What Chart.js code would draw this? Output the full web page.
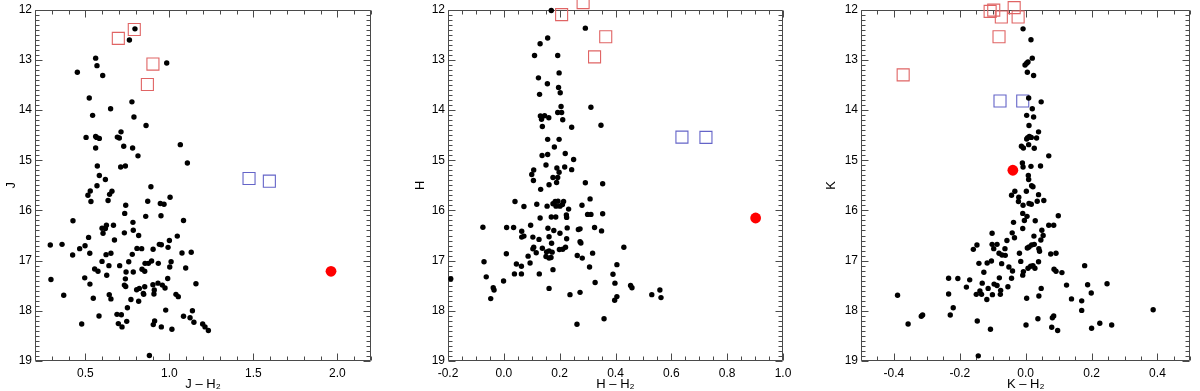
<!DOCTYPE html>
<html>
<head>
<meta charset="utf-8">
<script src="https://cdn.jsdelivr.net/npm/chart.js@4.4.1/dist/chart.umd.min.js"></script>
<style>
  html, body { margin: 0; padding: 0; background: #fff; }
  #wrap { position: relative; width: 1200px; height: 391px; overflow: hidden; }
  #wrap canvas { position: absolute; top: 0; }
</style>
</head>
<body>
<div id="wrap">
  <canvas id="cJ" width="400" height="391" style="left:0px"></canvas>
  <canvas id="cH" width="400" height="391" style="left:400px"></canvas>
  <canvas id="cK" width="400" height="391" style="left:800px"></canvas>
</div>
<script>
// ---------------- DATA ----------------
// Magnitude axis tick labels (shared by all panels)
const MAG_TICKS = [12, 13, 14, 15, 16, 17, 18, 19];

// Panel 1: J vs J - H2
const J_XTICKS = [0.5, 1.0, 1.5, 2.0];
const J_DOTS = [
  [0.795,12.383],[0.762,12.606],[0.561,12.967],[0.569,13.117],[0.984,13.065],[0.452,13.248],[0.603,13.314],
  [0.523,13.760],[0.777,13.838],[0.543,14.107],[0.650,13.976],[0.789,14.140],[0.861,14.310],[0.712,14.435],
  [0.504,14.546],[0.561,14.526],[0.567,14.546],[0.583,14.566],[0.690,14.540],[0.702,14.559],[0.728,14.723],
  [0.561,14.756],[0.781,14.756],[1.065,14.690],[0.813,14.913],[0.571,15.116],[0.738,15.116],[0.710,15.136],
  [1.107,15.057],[0.583,15.306],[0.619,15.385],[0.890,15.529],[0.569,15.509],[0.515,15.699],[0.529,15.614],
  [0.658,15.620],[0.644,15.680],[0.533,15.824],[0.635,15.804],[0.871,15.817],[0.740,15.896],[0.946,15.863],
  [0.968,15.876],[1.004,15.738],[0.734,16.060],[0.859,16.119],[0.950,16.106],[0.426,16.205],[0.783,16.238],
  [1.084,16.200],[0.625,16.296],[0.599,16.355],[0.619,16.362],[0.667,16.296],[0.605,16.454],[0.785,16.394],
  [0.732,16.447],[0.817,16.499],[0.519,16.538],[1.047,16.512],[0.673,16.590],[1.000,16.600],[0.291,16.690],
  [0.361,16.676],[0.498,16.703],[0.466,16.762],[0.424,16.889],[0.526,16.855],[0.652,16.855],[0.623,16.881],
  [0.807,16.757],[0.835,16.762],[0.779,16.875],[0.903,16.774],[0.940,16.676],[0.952,16.683],[0.992,16.736],
  [1.075,16.850],[1.130,16.835],[0.599,17.016],[0.704,17.101],[0.640,17.101],[0.758,17.022],[0.855,17.055],
  [0.875,17.055],[0.894,17.009],[0.934,17.055],[1.010,17.022],[1.002,17.127],[1.097,17.147],[0.555,17.166],
  [0.575,17.213],[0.627,17.292],[0.742,17.226],[0.785,17.226],[0.837,17.173],[0.853,17.213],[0.295,17.377],
  [0.496,17.344],[0.738,17.364],[0.990,17.357],[0.527,17.468],[0.732,17.488],[0.740,17.515],[0.902,17.481],
  [0.932,17.449],[0.958,17.488],[0.974,17.547],[0.853,17.521],[0.821,17.554],[0.805,17.580],[0.910,17.587],
  [1.158,17.462],[0.371,17.691],[0.547,17.750],[0.642,17.678],[0.652,17.763],[0.771,17.776],[0.817,17.809],
  [0.845,17.652],[0.847,17.672],[0.908,17.665],[1.039,17.672],[1.053,17.718],[0.750,17.940],[0.978,17.986],
  [1.137,18.000],[0.581,18.104],[0.688,18.071],[0.714,18.078],[1.084,18.110],[0.746,18.210],[1.123,18.137],
  [0.478,18.262],[0.696,18.255],[0.718,18.321],[0.904,18.275],[0.912,18.203],[0.952,18.321],[1.015,18.367],
  [1.146,18.229],[1.198,18.262],[1.212,18.321],[1.232,18.393],[0.881,18.890]
];
const J_RED_SQ  = [[0.696,12.573],[0.791,12.396],[0.902,13.085],[0.869,13.491]];
const J_BLUE_SQ = [[1.474,15.365],[1.595,15.418]];
const J_RED_PT  = [[1.962,17.213]];

// Panel 2: H vs H - H2
const H_XTICKS = [-0.2, 0.0, 0.2, 0.4, 0.6, 0.8, 1.0];
const H_DOTS = [
  [0.170,12.017],[0.292,12.370],[0.157,12.567],[0.130,12.679],[0.110,12.914],[0.193,12.914],[0.198,13.261],
  [0.124,13.360],[0.156,13.478],[0.196,13.550],[0.202,13.655],[0.128,13.688],[0.205,13.930],[0.312,13.944],
  [0.193,14.049],[0.207,14.049],[0.131,14.120],[0.146,14.114],[0.161,14.153],[0.135,14.186],[0.211,14.193],
  [0.138,14.330],[0.243,14.343],[0.348,14.304],[0.157,14.585],[0.198,14.585],[0.181,14.736],[0.220,14.867],
  [0.157,14.887],[0.137,14.906],[0.250,14.985],[0.151,15.096],[0.218,15.136],[0.243,15.188],[0.190,15.155],
  [0.198,15.240],[0.107,15.194],[0.100,15.286],[0.106,15.404],[0.176,15.345],[0.193,15.345],[0.189,15.443],
  [0.162,15.490],[0.132,15.581],[0.292,15.450],[0.354,15.470],[0.309,15.771],[0.040,15.824],[0.072,15.922],
  [0.118,15.876],[0.155,15.915],[0.176,15.869],[0.184,15.824],[0.194,15.817],[0.201,15.915],[0.210,15.883],
  [0.214,15.824],[0.187,15.915],[0.232,15.974],[0.280,15.896],[0.130,16.152],[0.170,16.132],[0.186,16.132],
  [0.224,16.093],[0.225,16.139],[0.300,16.080],[0.312,16.080],[0.354,16.067],[-0.075,16.335],[0.010,16.342],
  [0.035,16.342],[0.064,16.414],[0.096,16.296],[0.158,16.355],[0.179,16.401],[0.201,16.454],[0.227,16.349],
  [0.267,16.381],[0.273,16.368],[0.325,16.342],[0.350,16.408],[0.064,16.532],[0.072,16.512],[0.104,16.532],
  [0.126,16.578],[0.162,16.525],[0.171,16.655],[0.225,16.564],[0.273,16.623],[0.276,16.649],[0.430,16.734],
  [0.107,16.734],[0.104,16.766],[0.138,16.753],[0.199,16.779],[0.211,16.773],[0.221,16.734],[0.153,16.826],
  [0.162,16.806],[0.173,16.832],[0.116,16.845],[0.009,16.865],[0.087,16.911],[0.151,16.917],[0.162,16.950],
  [0.169,16.937],[0.263,16.898],[0.318,16.852],[0.281,16.950],[-0.071,17.022],[0.094,17.048],[0.045,17.068],
  [0.063,17.114],[0.176,17.180],[0.307,17.127],[0.405,17.081],[-0.063,17.324],[0.038,17.265],[0.063,17.265],
  [0.127,17.265],[-0.001,17.406],[-0.190,17.364],[0.391,17.272],[0.398,17.449],[0.327,17.436],[0.454,17.495],
  [0.459,17.541],[-0.038,17.541],[-0.035,17.587],[0.162,17.554],[0.559,17.587],[-0.047,17.757],[0.237,17.678],
  [0.273,17.632],[0.405,17.717],[0.397,17.789],[0.530,17.678],[0.563,17.737],[0.359,18.157],[0.262,18.268]
];
const H_RED_SQ  = [[0.207,12.100],[0.284,11.860],[0.365,12.541],[0.325,12.941]];
const H_BLUE_SQ = [[0.638,14.540],[0.724,14.546]];
const H_RED_PT  = [[0.902,16.151]];

// Panel 3: K vs K - H2
const K_XTICKS = [-0.4, -0.2, 0.0, 0.2, 0.4];
const K_DOTS = [
  [-0.008,12.383],[0.016,12.600],[0.020,12.967],[-0.002,13.104],[0.003,13.070],[0.007,13.045],[0.005,13.248],
  [0.024,13.314],[0.009,13.760],[0.047,13.838],[0.020,13.976],[0.003,14.107],[0.024,14.140],[0.010,14.310],
  [0.039,14.435],[0.017,14.546],[0.006,14.553],[0.011,14.526],[0.003,14.579],[0.033,14.559],[0.009,14.690],
  [-0.013,14.723],[-0.007,14.756],[0.026,14.762],[0.070,14.913],[-0.010,15.057],[-0.008,15.136],[0.016,15.123],
  [0.045,15.116],[0.008,15.306],[0.009,15.385],[0.018,15.509],[0.022,15.529],[0.002,15.620],[-0.033,15.620],
  [-0.043,15.699],[-0.021,15.738],[-0.022,15.824],[0.039,15.686],[0.055,15.804],[0.035,15.817],[0.010,15.863],
  [0.017,15.876],[-0.008,15.896],[-0.009,16.060],[0.004,16.119],[0.099,16.106],[-0.004,16.200],[-0.037,16.238],
  [0.029,16.205],[0.070,16.296],[0.085,16.296],[-0.009,16.362],[-0.102,16.454],[-0.041,16.447],[0.049,16.394],
  [-0.034,16.545],[0.053,16.499],[0.025,16.512],[-0.057,16.600],[0.046,16.590],[-0.148,16.690],[-0.159,16.776],
  [-0.102,16.676],[-0.087,16.676],[-0.097,16.762],[-0.063,16.762],[0.018,16.690],[0.026,16.676],[0.010,16.729],
  [0.005,16.749],[0.040,16.762],[0.042,16.815],[-0.081,16.855],[-0.072,16.889],[-0.062,16.895],[-0.019,16.855],
  [0.076,16.868],[0.092,16.855],[-0.117,17.048],[-0.142,17.055],[-0.104,17.009],[-0.073,17.061],[-0.015,17.016],
  [0.039,17.022],[0.007,17.153],[0.015,17.114],[0.022,17.101],[0.028,17.153],[-0.007,17.219],[-0.009,17.290],
  [-0.051,17.127],[-0.040,17.206],[-0.127,17.232],[0.086,17.173],[0.092,17.213],[0.110,17.239],[0.179,17.101],
  [-0.234,17.351],[-0.206,17.357],[-0.170,17.383],[-0.132,17.449],[-0.080,17.344],[-0.043,17.351],[-0.096,17.468],
  [-0.087,17.495],[-0.054,17.521],[-0.180,17.528],[-0.114,17.554],[-0.139,17.607],[-0.134,17.672],[-0.150,17.672],
  [-0.076,17.593],[-0.077,17.672],[-0.101,17.678],[-0.118,17.776],[-0.234,17.665],[-0.389,17.691],[0.003,17.750],
  [0.040,17.704],[0.047,17.554],[0.124,17.488],[0.188,17.481],[0.247,17.462],[0.199,17.645],[0.139,17.763],
  [0.170,17.802],[0.170,17.992],[0.387,17.979],[-0.220,17.940],[-0.229,18.084],[-0.317,18.110],[-0.313,18.084],
  [-0.357,18.262],[-0.147,18.203],[-0.107,18.367],[0.001,18.282],[0.037,18.157],[0.081,18.137],[0.085,18.104],
  [0.079,18.327],[0.097,18.393],[0.200,18.347],[0.225,18.249],[0.261,18.282],[-0.144,18.897]
];
const K_RED_SQ  = [[-0.108,12.036],[-0.097,12.010],[-0.074,12.147],[-0.023,12.147],[-0.035,11.960],[-0.081,12.540],[-0.372,13.300]];
const K_BLUE_SQ = [[-0.078,13.820],[-0.009,13.820]];
const K_RED_PT  = [[-0.039,15.200]];

// ---------------- STYLE / LAYOUT ----------------
const FONT = "'Liberation Sans', Arial, Helvetica, 'DejaVu Sans', sans-serif";
const AXIS_COLOR = '#4a4a4a';
const RED_SQ_COLOR = '#e06464';
const BLUE_SQ_COLOR = '#6464c8';

const toPts = arr => arr.map(([x, y]) => ({x, y}));

// Inward ticks on all four sides + frame, positioned through the chart's own scales
const frameTicks = {
  id: 'frameTicks',
  beforeDatasetsDraw(chart, args, o) {
    const {ctx, chartArea: a} = chart;
    const xs = chart.scales.x, ys = chart.scales.y;
    const L = Math.round(a.left) + 0.5, R = Math.round(a.right) - 0.5;
    const T = Math.round(a.top) + 0.5, B = Math.round(a.bottom) - 0.5;
    ctx.save();
    ctx.strokeStyle = AXIS_COLOR;
    ctx.lineWidth = 1;
    ctx.beginPath();
    ctx.rect(L, T, R - L, B - T);
    ctx.stroke();
    ctx.beginPath();
    const near = (v, arr) => arr.some(t => Math.abs(t - v) < 1e-6);
    // x ticks
    const nx = Math.round((o.xmax - o.xmin) / o.xminor);
    for (let i = 0; i <= nx; i++) {
      const v = o.xmin + i * o.xminor;
      const len = near(v, o.xmajor) ? 7 : 4;
      const p = Math.round(xs.getPixelForValue(v)) + 0.5;
      ctx.moveTo(p, B); ctx.lineTo(p, B - len);
      ctx.moveTo(p, T); ctx.lineTo(p, T + len);
    }
    // y ticks
    const ny = Math.round((19 - 12) / o.yminor);
    for (let i = 0; i <= ny; i++) {
      const v = 12 + i * o.yminor;
      const len = near(v, MAG_TICKS) ? 7 : 4;
      const p = Math.round(ys.getPixelForValue(v)) + 0.5;
      ctx.moveTo(L, p); ctx.lineTo(L + len, p);
      ctx.moveTo(R, p); ctx.lineTo(R - len, p);
    }
    ctx.stroke();
    ctx.restore();
  }
};

function makePanel(id, cfg) {
  const ds = (label, pts, style) => Object.assign({label, data: toPts(pts), clip: false}, style);
  new Chart(document.getElementById(id), {
    type: 'scatter',
    data: {
      datasets: [
        ds('stars', cfg.dots, {pointStyle: 'circle', pointRadius: 2.7, backgroundColor: '#000', borderColor: '#000', borderWidth: 0}),
        ds('red squares', cfg.redSq, {pointStyle: 'rect', pointRadius: 8.5, backgroundColor: 'rgba(0,0,0,0)', borderColor: RED_SQ_COLOR, borderWidth: 1.1}),
        ds('blue squares', cfg.blueSq, {pointStyle: 'rect', pointRadius: 8.5, backgroundColor: 'rgba(0,0,0,0)', borderColor: BLUE_SQ_COLOR, borderWidth: 1.1}),
        ds('target', cfg.redPt, {pointStyle: 'circle', pointRadius: 5.4, backgroundColor: '#ff0000', borderColor: '#ff0000', borderWidth: 0})
      ]
    },
    options: {
      responsive: false,
      animation: false,
      events: [],
      layout: {padding: {left: 0, right: cfg.padRight, top: 5, bottom: 0}},
      plugins: {
        legend: {display: false},
        tooltip: {enabled: false},
        frameTicks: {xmin: cfg.xmin, xmax: cfg.xmax, xminor: cfg.xminor, xmajor: cfg.xticks, yminor: 0.1}
      },
      scales: {
        x: {
          type: 'linear', min: cfg.xmin, max: cfg.xmax,
          afterBuildTicks: s => { s.ticks = cfg.xticks.map(v => ({value: v})); },
          afterFit: s => { s.height = 30; s.paddingLeft = 0; s.paddingRight = 0; },
          grid: {display: false, drawTicks: false},
          border: {display: false},
          ticks: {
            padding: 5, color: '#000', autoSkip: false, maxRotation: 0,
            font: {family: FONT, size: 12},
            callback: v => Number(v).toFixed(1)
          },
          title: {
            display: true, text: cfg.xtitle, color: '#000',
            font: {family: FONT, size: 13, lineHeight: 1},
            padding: {top: 0, bottom: 0}
          }
        },
        y: {
          type: 'linear', reverse: true, min: 12, max: 19,
          afterBuildTicks: s => { s.ticks = MAG_TICKS.map(v => ({value: v})); },
          afterFit: s => { s.width = cfg.left; s.paddingTop = 0; s.paddingBottom = 0; },
          grid: {display: false, drawTicks: false},
          border: {display: false},
          ticks: {
            padding: 3, color: '#000', autoSkip: false,
            font: {family: FONT, size: 12},
            callback: v => String(v)
          },
          title: {
            display: true, text: cfg.ytitle, color: '#000',
            font: {family: FONT, size: 13, lineHeight: 1},
            padding: {top: cfg.ytitlePad, bottom: 0}
          }
        }
      }
    },
    plugins: [frameTicks]
  });
}

makePanel('cJ', {
  dots: J_DOTS, redSq: J_RED_SQ, blueSq: J_BLUE_SQ, redPt: J_RED_PT,
  xmin: 0.2, xmax: 2.2, xticks: J_XTICKS, xminor: 0.1,
  xtitle: 'J – H₂', ytitle: 'J',
  left: 35, padRight: 29, ytitlePad: 5
});
makePanel('cH', {
  dots: H_DOTS, redSq: H_RED_SQ, blueSq: H_BLUE_SQ, redPt: H_RED_PT,
  xmin: -0.2, xmax: 1.0, xticks: H_XTICKS, xminor: 0.05,
  xtitle: 'H – H₂', ytitle: 'H',
  left: 48, padRight: 17, ytitlePad: 14
});
makePanel('cK', {
  dots: K_DOTS, redSq: K_RED_SQ, blueSq: K_BLUE_SQ, redPt: K_RED_PT,
  xmin: -0.5, xmax: 0.5, xticks: K_XTICKS, xminor: 0.05,
  xtitle: 'K – H₂', ytitle: 'K',
  left: 61, padRight: 3, ytitlePad: 25
});
</script>
</body>
</html>
